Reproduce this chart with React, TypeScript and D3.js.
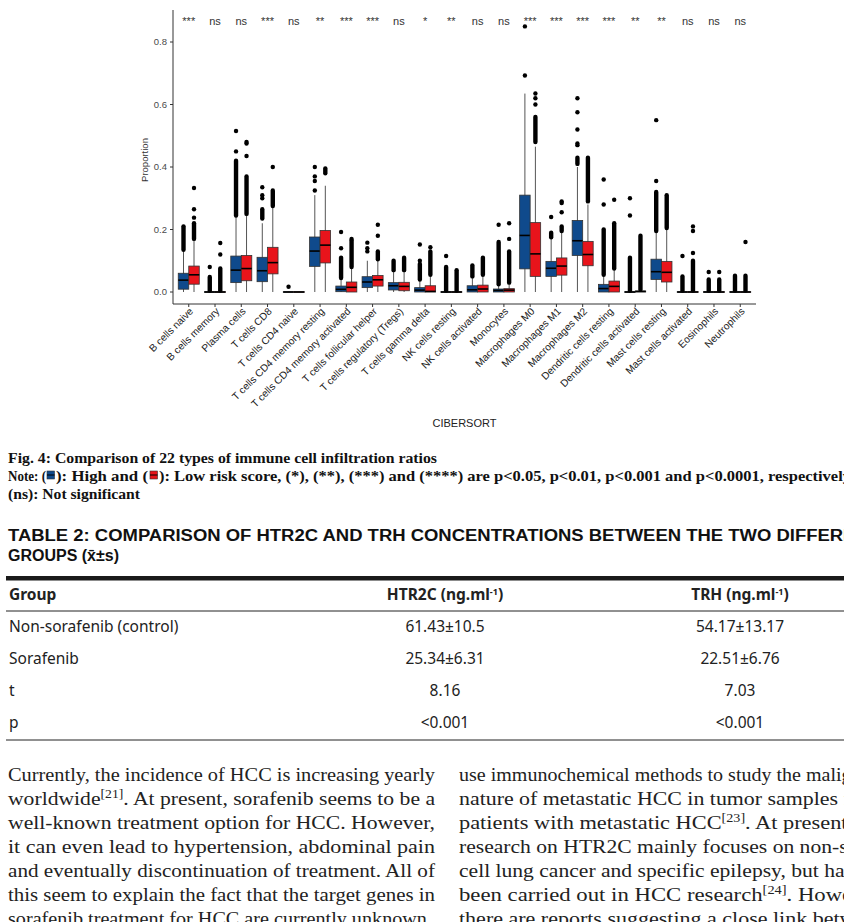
import * as d3 from 'd3'

// immune cell types on the x axis
const cellTypes = [
  'B cells naive', 'B cells memory', 'Plasma cells', 'T cells CD8', 'T cells CD4 naive',
  'T cells CD4 memory resting', 'T cells CD4 memory activated', 'T cells follicular helper',
  'T cells regulatory (Tregs)', 'T cells gamma delta', 'NK cells resting', 'NK cells activated',
  'Monocytes', 'Macrophages M0', 'Macrophages M1', 'Macrophages M2', 'Dendritic cells resting',
  'Dendritic cells activated', 'Mast cells resting', 'Mast cells activated', 'Eosinophils', 'Neutrophils',
]
const signif = ['***', 'ns', 'ns', '***', 'ns', '**', '***', '***', 'ns', '*', '**', 'ns', 'ns', '***', '***', '***', '***', '**', '**', 'ns', 'ns', 'ns']

// [lower whisker, q1, median, q3, upper whisker]
const highBox = [
  [0, 0.009, 0.038, 0.06, 0.13], [0, 0, 0, 0.001, 0.002], [0, 0.03, 0.07, 0.115, 0.24], [0, 0.033, 0.068, 0.111, 0.22],
  [0, 0, 0, 0.001, 0.001], [0, 0.082, 0.131, 0.176, 0.31], [0, 0.001, 0.0085, 0.019, 0.04], [0, 0.014, 0.032, 0.049, 0.1],
  [0, 0.0065, 0.02, 0.03, 0.065], [0, 0, 0.006, 0.014, 0.035], [0, 0, 0, 0.001, 0.002], [0, 0, 0.007, 0.02, 0.045],
  [0, 0, 0.005, 0.0096, 0.022], [0, 0.074, 0.181, 0.31, 0.635], [0, 0.05, 0.076, 0.098, 0.17], [0, 0.117, 0.164, 0.229, 0.4],
  [0, 0, 0.011, 0.0245, 0.05], [0, 0, 0, 0.001, 0.002], [0, 0.04, 0.065, 0.105, 0.19], [0, 0, 0, 0.001, 0.002],
  [0, 0, 0, 0.001, 0.002], [0, 0, 0, 0.001, 0.002],
]
const lowBox = [
  [0, 0.025, 0.055, 0.083, 0.165], [0, 0, 0, 0.001, 0.002], [0, 0.036, 0.075, 0.117, 0.245], [0, 0.058, 0.094, 0.143, 0.27],
  [0, 0, 0, 0.001, 0.001], [0, 0.093, 0.15, 0.197, 0.34], [0, 0, 0.015, 0.032, 0.075], [0, 0.019, 0.039, 0.053, 0.1],
  [0, 0.004, 0.018, 0.031, 0.066], [0, 0, 0.002, 0.02, 0.05], [0, 0, 0, 0.001, 0.002], [0, 0, 0.0096, 0.022, 0.05],
  [0, 0, 0.006, 0.0107, 0.025], [0, 0.05, 0.122, 0.222, 0.465], [0, 0.054, 0.083, 0.109, 0.19], [0, 0.084, 0.12, 0.162, 0.28],
  [0, 0, 0.018, 0.035, 0.07], [0, 0, 0.002, 0.003, 0.005], [0, 0.032, 0.063, 0.098, 0.2], [0, 0, 0, 0.001, 0.002],
  [0, 0, 0, 0.001, 0.002], [0, 0, 0, 0.001, 0.002],
]
// runs of overlapping outliers [from, to]
const highDense = [
  [0.135, 0.205], [0.005, 0.048], [0.245, 0.42], [0.235, 0.265], null, null, [0.045, 0.11], null,
  [0.07, 0.1], [0.04, 0.09], [0.005, 0.08], [0.05, 0.085], [0.025, 0.16], null, [0.175, 0.19], [0.41, 0.43],
  [0.055, 0.2], [0.005, 0.11], [0.195, 0.32], [0.005, 0.05], [0.005, 0.04], [0.005, 0.052],
]
const lowDense = [
  [0.17, 0.22], [0.005, 0.075], [0.25, 0.37], [0.275, 0.325], null, [0.38, 0.395], [0.08, 0.165], [0.105, 0.13],
  [0.07, 0.11], [0.055, 0.13], [0.005, 0.07], [0.055, 0.11], [0.03, 0.13], [0.48, 0.56], [0.195, 0.21], [0.29, 0.43],
  [0.075, 0.22], [0.008, 0.18], [0.205, 0.31], [0.005, 0.1], [0.005, 0.04], [0.005, 0.052],
]
// single outliers
const highOut = [
  [0.21], [0.08], [0.45, 0.515], [0.3, 0.31, 0.335], [0.017], [0.325, 0.355, 0.37, 0.4], [0.14, 0.192], [0.13, 0.14, 0.158],
  [], [0.1, 0.152], [0.115], [], [0.215], [0.693, 0.85], [0.24], [0.47, 0.475, 0.52, 0.575, 0.62],
  [0.28, 0.36], [0.245, 0.3], [0.355, 0.55], [0.115], [0.064], [],
]
const lowOut = [
  [0.238, 0.265, 0.333], [0.12, 0.157], [0.435, 0.475, 0.48], [0.4], [], [], [0.17], [0.18, 0.215],
  [], [0.143], [], [], [0.17, 0.22], [0.6, 0.62, 0.635], [0.255, 0.285, 0.29], [],
  [0.295], [], [], [0.125, 0.195, 0.21], [0.064], [0.16],
]

const tableHead = ['Group', 'HTR2C (ng.ml', 'TRH (ng.ml']
const tableRows = [
  ['Non-sorafenib (control)', '61.43±10.5', '54.17±13.17'],
  ['Sorafenib', '25.34±6.31', '22.51±6.76'],
  ['t', '8.16', '7.03'],
  ['p', '<0.001', '<0.001'],
]

// body text lines: [before superscript, superscript, after]
const leftCol = [
  ['Currently, the incidence of HCC is increasing yearly', '', ''],
  ['worldwide', '[21]', '. At present, sorafenib seems to be a'],
  ['well-known treatment option for HCC. However,', '', ''],
  ['it can even lead to hypertension, abdominal pain', '', ''],
  ['and eventually discontinuation of treatment. All of', '', ''],
  ['this seem to explain the fact that the target genes in', '', ''],
  ['sorafenib treatment for HCC are currently unknown.', '', ''],
]
const rightCol = [
  ['use immunochemical methods to study the malignant', '', ''],
  ['nature of metastatic HCC in tumor samples from', '', ''],
  ['patients with metastatic HCC', '[23]', '. At present, the'],
  ['research on HTR2C mainly focuses on non-small', '', ''],
  ['cell lung cancer and specific epilepsy, but has not', '', ''],
  ['been carried out in HCC research', '[24]', '. However,'],
  ['there are reports suggesting a close link between', '', ''],
]

const BLUE = '#0f4a8c'
const RED = '#e8141b'

function BoxGroup({ cx, stats, dense, outs, fill, hw, y }: any) {
  const r = 2.2
  const [lo, q1, med, q3, hi] = stats
  return (
    <g>
      <line x1={cx} x2={cx} y1={y(lo)} y2={y(hi)} stroke="#555" strokeWidth={1} />
      <rect x={cx - hw} y={y(q3)} width={hw * 2} height={Math.max(0.6, y(q1) - y(q3))} fill={fill} stroke="#333" strokeWidth={0.8} />
      <line x1={cx - hw} x2={cx + hw} y1={y(med)} y2={y(med)} stroke="#000" strokeWidth={1.6} />
      {dense && (
        <rect x={cx - r} y={y(dense[1]) - r} width={r * 2} height={y(dense[0]) - y(dense[1]) + r * 2} rx={r} fill="#000" />
      )}
      {outs.map((v: number, i: number) => (
        <circle key={i} cx={cx} cy={y(v)} r={r} fill="#000" />
      ))}
    </g>
  )
}

function Line({ parts, x, y, len }: any) {
  return (
    <text x={x} y={y} textLength={len} lengthAdjust="spacingAndGlyphs" fontFamily="'Liberation Serif', serif" fontSize={19} fill="#222">
      {parts[0]}
      {parts[1] && <tspan dy={-7} fontSize={12}>{parts[1]}</tspan>}
      {parts[1] && <tspan dy={7}>{parts[2]}</tspan>}
    </text>
  )
}

export default function App() {
  const x = d3.scalePoint().domain(cellTypes).range([173, 756]).padding(0.6)
  const y = d3.scaleLinear().domain([0, 0.8]).range([292, 42])
  const step = x.step()
  const off = step * 0.2
  const hw = step * 0.2
  const axisFont = "'Liberation Sans', Arial, sans-serif"

  return (
    <svg width={844} height={922} style={{ position: 'absolute', left: 0, top: 0, background: '#fff' }}>
      {/* chart */}
      <g fontFamily={axisFont}>
        <line x1={173} x2={173} y1={10} y2={304} stroke="#333" strokeWidth={1} />
        <line x1={173} x2={756} y1={304} y2={304} stroke="#333" strokeWidth={1} />
        {y.ticks(4).map((t) => (
          <g key={t}>
            <line x1={170} x2={173} y1={y(t)} y2={y(t)} stroke="#333" />
            <text x={167} y={y(t) + 3.3} textAnchor="end" fontSize={9.5} fill="#4a4a4a">{t.toFixed(1)}</text>
          </g>
        ))}
        <text transform="translate(148,160) rotate(-90)" textAnchor="middle" fontSize={9.5} fill="#333">Proportion</text>
        {cellTypes.map((c, i) => {
          const cx = x(c) as number
          return (
            <g key={c}>
              <line x1={cx} x2={cx} y1={304} y2={307} stroke="#333" />
              <text transform={`translate(${cx + 5},${312}) rotate(-45)`} textAnchor="end" fontSize={10.2} fill="#222">{c}</text>
              <text x={cx} y={25} textAnchor="middle" fontSize={11} fill="#333">{signif[i]}</text>
              <BoxGroup cx={cx - off} stats={highBox[i]} dense={highDense[i]} outs={highOut[i]} fill={BLUE} hw={hw} y={y} />
              <BoxGroup cx={cx + off} stats={lowBox[i]} dense={lowDense[i]} outs={lowOut[i]} fill={RED} hw={hw} y={y} />
            </g>
          )
        })}
        <text x={464.5} y={427} textAnchor="middle" fontSize={11} fill="#222">CIBERSORT</text>
      </g>

      {/* caption */}
      <g fontFamily="'Liberation Serif', serif" fontWeight="bold" fontSize={14.5} fill="#111">
        <text x={8} y={463} textLength={429} lengthAdjust="spacingAndGlyphs">Fig. 4: Comparison of 22 types of immune cell infiltration ratios</text>
        <text x={8} y={481} textLength={38} lengthAdjust="spacingAndGlyphs">Note: (</text>
        <rect x={47} y={471} width={7.5} height={8} fill={BLUE} stroke="#333" strokeWidth={0.6} />
        <line x1={47} x2={54.5} y1={475} y2={475} stroke="#000" strokeWidth={1} />
        <text x={56} y={481} textLength={92} lengthAdjust="spacingAndGlyphs">): High and (</text>
        <rect x={150} y={471} width={7.5} height={8} fill={RED} stroke="#333" strokeWidth={0.6} />
        <line x1={150} x2={157.5} y1={475} y2={475} stroke="#000" strokeWidth={1} />
        <text x={159} y={481} textLength={692} lengthAdjust="spacingAndGlyphs">): Low risk score, (*), (**), (***) and (****) are p&lt;0.05, p&lt;0.01, p&lt;0.001 and p&lt;0.0001, respectively</text>
        <text x={8} y={499} textLength={132} lengthAdjust="spacingAndGlyphs">(ns): Not significant</text>
      </g>

      {/* table */}
      <g fontFamily="'Liberation Sans', Arial, sans-serif" fontWeight="bold" fontSize={16} fill="#111">
        <text x={8} y={541} textLength={872} lengthAdjust="spacingAndGlyphs">TABLE 2: COMPARISON OF HTR2C AND TRH CONCENTRATIONS BETWEEN THE TWO DIFFERENT</text>
        <text x={8} y={561}>GROUPS (x̄±s)</text>
      </g>
      <rect x={6} y={576} width={838} height={4.5} fill="#1a1a1a" />
      <line x1={6} x2={844} y1={611} y2={611} stroke="#222" strokeWidth={1} />
      <line x1={6} x2={844} y1={740} y2={740} stroke="#222" strokeWidth={1} />
      <g fontFamily="'Noto Sans', 'Open Sans', sans-serif" fontSize={15.5} fill="#222">
        <text x={9} y={600} fontWeight="bold">{tableHead[0]}</text>
        <text x={445} y={600} fontWeight="bold" textAnchor="middle">{tableHead[1]}<tspan dy={-5} fontSize={9}>-1</tspan><tspan dy={5}>)</tspan></text>
        <text x={740} y={600} fontWeight="bold" textAnchor="middle">{tableHead[2]}<tspan dy={-5} fontSize={9}>-1</tspan><tspan dy={5}>)</tspan></text>
        {tableRows.map((row, i) => (
          <g key={i}>
            <text x={9} y={632 + i * 32}>{row[0]}</text>
            <text x={445} y={632 + i * 32} textAnchor="middle">{row[1]}</text>
            <text x={740} y={632 + i * 32} textAnchor="middle">{row[2]}</text>
          </g>
        ))}
      </g>

      {/* body text */}
      {leftCol.map((p, i) => (
        <Line key={'l' + i} parts={p} x={8} y={781 + i * 24} len={i === 6 ? 424 : 427} />
      ))}
      {rightCol.map((p, i) => (
        <Line key={'r' + i} parts={p} x={459} y={781 + i * 24} len={427} />
      ))}
    </svg>
  )
}
